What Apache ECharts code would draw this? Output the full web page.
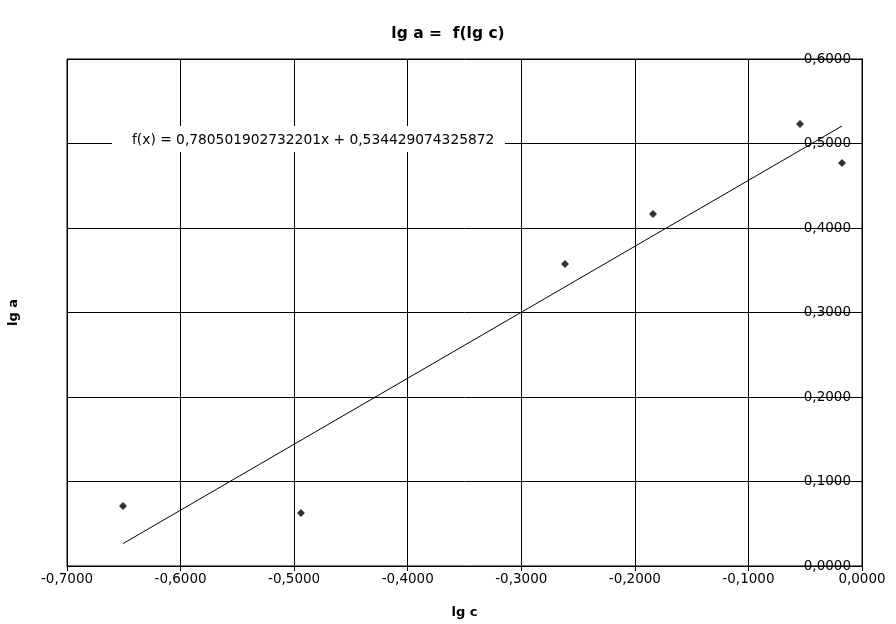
<!DOCTYPE html>
<html>
<head>
<meta charset="utf-8">
<script src="https://cdn.jsdelivr.net/npm/echarts@6/dist/echarts.min.js"></script>
<style>html,body{margin:0;padding:0;background:#fff;}#c{width:896px;height:624px;}</style>
</head>
<body>
<div id="c"></div>
<script>
var lgC = [-0.6507, -0.4940, -0.2615, -0.1840, -0.0546, -0.0176];
var lgA = [0.0710, 0.0627, 0.3574, 0.4166, 0.5231, 0.4769];
var trendX = [-0.6507, -0.0176];
var trendY = [0.0265, 0.5207];
var equation = 'f(x) = 0,780501902732201x + 0,534429074325872';
var titleText = 'lg a =  f(lg c)';
var xName = 'lg c';
var yName = 'lg a';

var FONT = 'DejaVu Sans';
function fmt(v){ return v.toFixed(4).replace('.', ','); }
var pts = lgC.map(function(x,i){ return [x, lgA[i]]; });
var line = trendX.map(function(x,i){ return [x, trendY[i]]; });

var chart = echarts.init(document.getElementById('c'), null, {renderer:'canvas'});
chart.setOption({
  animation:false,
  backgroundColor:'#fff',
  title:{text:titleText, left:'center', top:21,
    textStyle:{fontFamily:FONT, fontSize:15.5, fontWeight:'bold', color:'#000'}},
  grid:{left:67, right:34, top:59, bottom:58, containLabel:false, outerBoundsMode:'none',
    show:true, borderColor:'#000', borderWidth:1, backgroundColor:'transparent'},
  xAxis:{type:'value', min:-0.7, max:0, interval:0.1,
    name:xName, nameLocation:'middle', nameGap:40,
    nameTextStyle:{fontFamily:FONT, fontSize:13, fontWeight:'bold', color:'#000'},
    axisLine:{show:true, onZero:false, lineStyle:{color:'#000', width:1}},
    axisTick:{show:true, length:5, lineStyle:{color:'#000'}},
    axisLabel:{formatter:fmt, margin:6, fontFamily:FONT, fontSize:13.5, color:'#000'},
    splitLine:{show:true, lineStyle:{color:'#000', width:1}}},
  yAxis:[{type:'value', min:0, max:0.6, interval:0.1, position:'left',
    name:yName, nameLocation:'middle', nameGap:47, nameRotate:90,
    nameTextStyle:{fontFamily:FONT, fontSize:13, fontWeight:'bold', color:'#000'},
    axisLine:{show:true, lineStyle:{color:'#000'}},
    axisTick:{show:false}, axisLabel:{show:false},
    splitLine:{show:true, lineStyle:{color:'#000', width:1}}},
   {type:'value', min:0, max:0.6, interval:0.1, position:'right',
    axisLine:{show:true, lineStyle:{color:'#000'}},
    axisTick:{show:false},
    axisLabel:{inside:true, margin:11, formatter:fmt, fontFamily:FONT, fontSize:13.5, color:'#000'},
    splitLine:{show:false}}],
  graphic:[
    {type:'rect', left:112, top:126, z:100, shape:{width:393, height:26}, style:{fill:'#fff'}},
    {type:'text', left:132, top:133, z:101, style:{text:equation, font:'13.8px "DejaVu Sans"', fill:'#000'}}
  ],
  series:[
    {type:'line', data:line, symbol:'none', lineStyle:{color:'#000', width:1}, z:3},
    {type:'scatter', data:pts, symbol:'diamond', symbolSize:8, itemStyle:{color:'#000'}, z:4}
  ]
});
</script>
</body>
</html>
